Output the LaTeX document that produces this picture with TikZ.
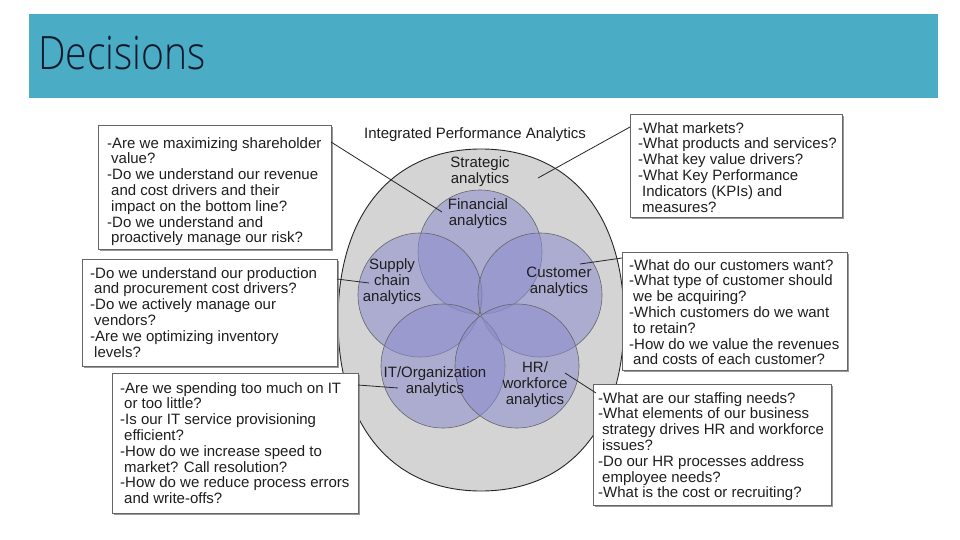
\documentclass[tikz,border=0pt]{standalone}
\usepackage{fontspec}
\setmainfont{Liberation Sans}
\IfFontExistsTF{Open Sans Light}{\newfontfamily\titlefont{Open Sans Light}}{\newfontfamily\titlefont{Carlito}}
\usetikzlibrary{shadows}
\definecolor{barcol}{HTML}{4BACC6}
\definecolor{titlecol}{HTML}{0E1A2B}
\definecolor{bigfill}{RGB}{212,212,212}
\definecolor{lav}{RGB}{140,140,205}
\definecolor{txt}{RGB}{30,30,30}
\begin{document}
\begin{tikzpicture}[x=1pt,y=-1pt,
  titlebar/.style={rectangle, fill=barcol, draw=none, inner sep=0},
  bigc/.style={fill=bigfill, draw=black!85, line width=0.9pt},
  smallc/.style={circle, minimum size=124pt, inner sep=0, fill=lav, fill opacity=0.55, draw=black!60, draw opacity=1, line width=0.6pt},
  lbl/.style={align=center, inner sep=0, text=txt, font=\fontsize{15}{16}\selectfont},
  qbox/.style={rectangle, anchor=north west, fill=white, draw=black!60, line width=0.9pt, inner sep=0,
     drop shadow={shadow xshift=1.6pt, shadow yshift=-1.6pt, fill=black!40, opacity=1}},
  qtext/.style={anchor=north west, align=left, inner sep=0, text=txt, font=\fontsize{15}{15.8}\selectfont},
  conn/.style={draw=black!85, line width=0.8pt}
]
\useasboundingbox (0,0) rectangle (960,540);
\fill[white] (0,0) rectangle (960,540);
% title bar
\node[titlebar, minimum width=909pt, minimum height=84pt, anchor=north west] (bar) at (29,14) {};
\node[anchor=base west, inner sep=0, text=titlecol, xscale=0.85, font=\titlefont\fontsize{46}{46}\selectfont] (title) at (38,70) {Decisions};
% outer circle (slightly squared ellipse)
\coordinate (ipac) at (481,320);
\path[bigc] (481,149) .. controls (569.7,149) and (624,214) .. (624,320)
  .. controls (624,426) and (569.7,491) .. (481,491)
  .. controls (392.3,491) and (338,426) .. (338,320)
  .. controls (338,214) and (392.3,149) .. (481,149) -- cycle;
% inner circles
\node[smallc] (cfin) at (480,252) {};
\node[smallc] (csup) at (420,295) {};
\node[smallc] (ccus) at (540,295) {};
\node[smallc] (cit) at (443,366) {};
\node[smallc] (chr) at (517,366) {};
% labels
\node[lbl] (tipa) at (475,135) {Integrated Performance Analytics};
\node[lbl] (tstrat) at (480,172) {Strategic\\analytics};
\node[lbl] (tfin) at (478,214) {Financial\\analytics};
\node[lbl] (tsup) at (392,282) {Supply\\chain\\analytics};
\node[lbl] (tcus) at (559,282) {Customer\\analytics};
\node[lbl] (tit) at (435,382) {IT/Organization\\analytics};
\node[lbl] (thr) at (535,385) {HR/\\workforce\\analytics};
% boxes
\node[qbox, minimum width=233pt, minimum height=124pt] (b1) at (98,125) {};
\node[qbox, minimum width=212pt, minimum height=103pt] (b2) at (630,114) {};
\node[qbox, minimum width=255pt, minimum height=107pt] (b3) at (82,259) {};
\node[qbox, minimum width=246pt, minimum height=140pt] (b4) at (112,373) {};
\node[qbox, minimum width=225pt, minimum height=118pt] (b5) at (622,252) {};
\node[qbox, minimum width=238pt, minimum height=121pt] (b6) at (593,384) {};
\newcommand{\ind}{\hspace*{4pt}}
\node[qtext] (q1) at (107,137) {-Are we maximizing shareholder\\\ind value?\\-Do we understand our revenue\\\ind and cost drivers and their\\\ind impact on the bottom line?\\-Do we understand and\\\ind proactively manage our risk?};
\node[qtext] (q2) at (638,122) {-What markets?\\-What products and services?\\-What key value drivers?\\-What Key Performance\\\ind Indicators (KPIs) and\\\ind measures?};
\node[qtext] (q3) at (90,267) {-Do we understand our production\\\ind and procurement cost drivers?\\-Do we actively manage our\\\ind vendors?\\-Are we optimizing inventory\\\ind levels?};
\node[qtext] (q4) at (120,382) {-Are we spending too much on IT\\\ind or too little?\\-Is our IT service provisioning\\\ind efficient?\\-How do we increase speed to\\\ind market? Call resolution?\\-How do we reduce process errors\\\ind and write-offs?};
\node[qtext] (q5) at (629,259) {-What do our customers want?\\-What type of customer should\\\ind we be acquiring?\\-Which customers do we want\\\ind to retain?\\-How do we value the revenues\\\ind and costs of each customer?};
\node[qtext] (q6) at (598,392) {-What are our staffing needs?\\-What elements of our business\\\ind strategy drives HR and workforce\\\ind issues?\\-Do our HR processes address\\\ind employee needs?\\-What is the cost or recruiting?};
% connector ends
\coordinate (s1) at (331,142); \coordinate (e1) at (442,212);
\coordinate (s2) at (630,127); \coordinate (e2) at (538,178);
\coordinate (s3) at (337,279); \coordinate (e3) at (369,283);
\coordinate (s4) at (358,385); \coordinate (e4) at (398,388);
\coordinate (s5) at (622,258); \coordinate (e5) at (580,264);
\coordinate (s6) at (596,393); \coordinate (e6) at (565,373);
\draw[conn] (s1) -- (e1);
\draw[conn] (s2) -- (e2);
\draw[conn] (s3) -- (e3);
\draw[conn] (s4) -- (e4);
\draw[conn] (s5) -- (e5);
\draw[conn] (s6) -- (e6);
\end{tikzpicture}
\end{document}
